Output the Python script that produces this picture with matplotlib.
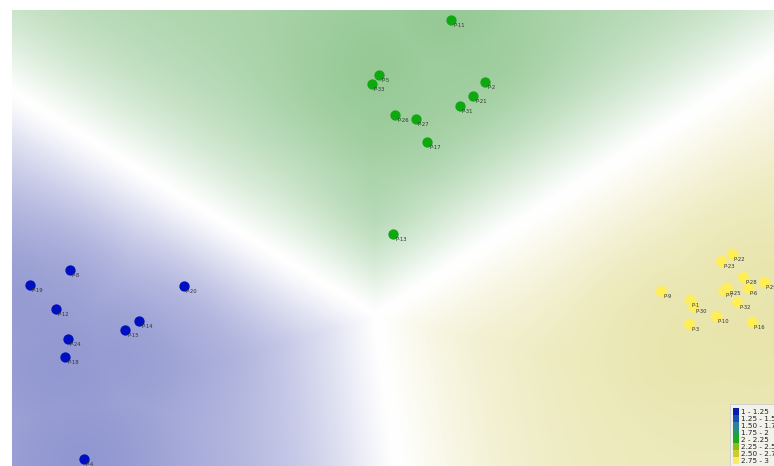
import numpy as np
import matplotlib.pyplot as plt
from matplotlib.patches import Rectangle

# point positions (pixel-like units, y down)
blue_names = ['P-8', 'P-19', 'P-20', 'P-12', 'P-14', 'P-15', 'P-24', 'P-18', 'P-4']
blue_x = [70, 30, 184, 56, 139, 125, 68, 65, 84]
blue_y = [270, 285, 286, 309, 321, 330, 339, 357, 459]

green_names = ['P-11', 'P-5', 'P-33', 'P-2', 'P-21', 'P-31', 'P-26', 'P-27', 'P-17', 'P-13']
green_x = [451, 379, 372, 485, 473, 460, 395, 416, 427, 393]
green_y = [20, 75, 84, 82, 96, 106, 115, 119, 142, 234]

yellow_names = ['P-22', 'P-23', 'P-28', 'P-29', 'P-6', 'P-7', 'P-25', 'P-9', 'P-1',
                'P-30', 'P-32', 'P-10', 'P-3', 'P-16']
yellow_x = [732, 721, 743, 764, 748, 723, 727, 661, 690, 693, 737, 716, 689, 752]
yellow_y = [254, 261, 277, 282, 288, 290, 288, 291, 300, 306, 302, 316, 324, 322]

legend_labels = ['1 - 1.25', '1.25 - 1.5', '1.50 - 1.75', '1.75 - 2', '2 - 2.25',
                 '2.25 - 2.5', '2.50 - 2.75', '2.75 - 3']
legend_colors = ['#0a1fa8', '#1a4fb0', '#2f7fa0', '#1f9a5a', '#22a81c',
                 '#8cbc1a', '#cfcc2a', '#f6ec6a']

W, H = 774, 466
fig = plt.figure(figsize=(7.74, 4.66), dpi=100)
ax = fig.add_axes([12 / W, 0, (W - 12) / W, (H - 10) / H])
ax.set_xlim(12, W)
ax.set_ylim(H, 10)
ax.axis('off')

# background: nearest class centre (y stretched), fading to white at the seams
gx, gy = np.meshgrid(np.arange(12, W, 2.0), np.arange(10, H, 2.0))
groups = [(blue_x, blue_y), (green_x, green_y), (yellow_x, yellow_y)]
k = 1.57
bias = [0.0, 27864.0, 40000.0]
cen = np.array([(np.mean(xs), np.mean(ys) * k) for xs, ys in groups])
d2 = np.array([(gx - cx) ** 2 + (gy * k - cy) ** 2 - b for (cx, cy), b in zip(cen, bias)])
cls = d2.argmin(axis=0)
dist = np.full(gx.shape, np.inf)
for i in range(3):
    for j in range(3):
        if i == j:
            continue
        sep = np.hypot(*(cen[i] - cen[j]))
        m = (d2[j] - d2[i]) / (2 * sep)
        dist = np.where(cls == i, np.minimum(dist, m), dist)
a = 1 - np.exp(-(dist / 100.0) ** 1.3)

near = np.zeros_like(gx)
for xs, ys in groups:
    for x, y in zip(xs, ys):
        near = np.maximum(near, np.exp(-((gx - x) ** 2 + (gy - y) ** 2) / (2 * 70.0 ** 2)))
a = np.clip(a * (0.8 + 0.2 * near), 0, 1)

base = np.array([[144, 150, 208], [148, 200, 148], [232, 228, 170]]) / 255.0
img = 1 - a[..., None] + base[cls] * a[..., None]
ax.imshow(img, extent=[12, W, H, 10], origin='upper', interpolation='bilinear', zorder=0)

# points and labels
ax.scatter(blue_x, blue_y, s=55, color='#0010c0', zorder=3, linewidths=0)
ax.scatter(green_x, green_y, s=55, color='#10a810', zorder=3, linewidths=0)
ax.scatter(yellow_x, yellow_y, s=65, color='#ffee55', edgecolors='#f4e890',
           linewidths=0.8, zorder=3)
for names, xs, ys in [(blue_names, blue_x, blue_y), (green_names, green_x, green_y),
                      (yellow_names, yellow_x, yellow_y)]:
    for n, x, y in zip(names, xs, ys):
        ax.text(x + 2, y + 3, n, fontsize=3.8, color='#333333', va='top', ha='left', zorder=4)

# legend box (clipped by the figure edge like the original)
lx, ly = 730, 404
ax.add_patch(Rectangle((lx, ly), 60, 62, facecolor='#f2f2ea', edgecolor='#cccccc',
                       linewidth=0.6, zorder=5, clip_on=False))
for i, (lab, col) in enumerate(zip(legend_labels, legend_colors)):
    yy = ly + 4 + i * 7
    ax.add_patch(Rectangle((lx + 3, yy), 6, 7, facecolor=col, edgecolor='none', zorder=6,
                           clip_on=False))
    ax.text(lx + 11, yy + 3.7, lab, fontsize=5.2, color='#222222', va='center', ha='left',
            zorder=6)

fig.savefig('out.png', dpi=100)
